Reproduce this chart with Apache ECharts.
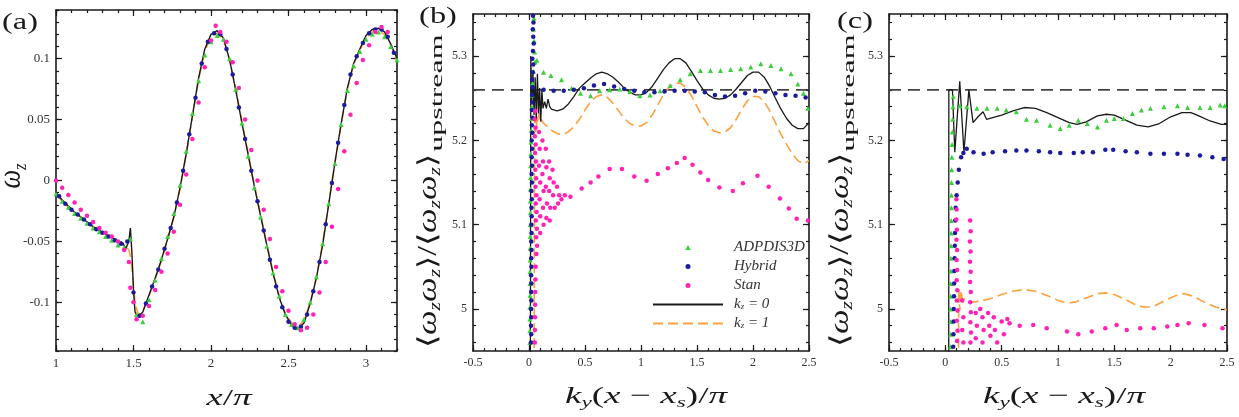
<!DOCTYPE html>
<html>
<head>
<meta charset="utf-8">
<script src="https://cdn.jsdelivr.net/npm/echarts@6/dist/echarts.min.js"></script>
<style>
  html, body { margin: 0; padding: 0; background: #fff; }
  #chart { width: 1239px; height: 417px; }
</style>
</head>
<body>
<div id="chart"></div>
<script>
// ---------- panel (a): omega_z along x/pi ----------
var aLineX = [1.00,1.04,1.08,1.12,1.16,1.20,1.24,1.28,1.32,1.36,1.40,1.43,1.45,1.47,1.48,1.49,1.50,1.51,1.53,
  1.56,1.60,1.64,1.68,1.72,1.76,1.80,1.84,1.88,1.92,1.96,2.00,2.04,2.08,2.12,2.16,2.20,2.24,2.28,2.32,2.36,
  2.40,2.44,2.48,2.52,2.56,2.60,2.64,2.68,2.72,2.76,2.80,2.84,2.88,2.92,2.96,3.00,3.04,3.08,3.12,3.16,3.20];
var aK0 = [-0.010,-0.016,-0.021,-0.026,-0.030,-0.034,-0.038,-0.041,-0.044,-0.047,-0.050,
  -0.051,-0.056,-0.050,-0.039,-0.060,-0.090,-0.108,-0.112,
  -0.108,-0.094,-0.080,-0.065,-0.048,-0.030,-0.006,0.022,0.053,0.084,0.108,
  0.120,0.123,0.117,0.099,0.074,0.047,0.021,-0.005,-0.029,-0.053,
  -0.076,-0.096,-0.110,-0.119,-0.122,-0.117,-0.101,-0.080,-0.053,-0.019,
  0.015,0.047,0.076,0.096,0.108,0.119,0.124,0.125,0.122,0.112,0.100];
var aK1 = [-0.011,-0.017,-0.022,-0.026,-0.030,-0.034,-0.038,-0.041,-0.044,-0.047,-0.050,
  -0.052,-0.054,-0.057,-0.062,-0.072,-0.088,-0.100,-0.110,
  -0.107,-0.095,-0.081,-0.066,-0.049,-0.030,-0.007,0.021,0.052,0.083,0.106,
  0.118,0.121,0.116,0.099,0.075,0.048,0.022,-0.004,-0.028,-0.052,
  -0.075,-0.095,-0.109,-0.117,-0.120,-0.115,-0.100,-0.079,-0.052,-0.018,
  0.015,0.046,0.075,0.095,0.107,0.117,0.122,0.123,0.120,0.111,0.099];
var aGreenX = [1.00,1.04,1.08,1.12,1.16,1.20,1.24,1.28,1.32,1.36,1.40,1.44,1.48,1.52,1.56,1.60,1.64,1.68,
  1.72,1.76,1.80,1.84,1.88,1.92,1.96,2.00,2.04,2.08,2.12,2.16,2.20,2.24,2.28,2.32,2.36,2.40,2.44,2.48,
  2.52,2.56,2.60,2.64,2.68,2.72,2.76,2.80,2.84,2.88,2.92,2.96,3.00,3.04,3.08,3.12,3.16,3.20];
var aGreenY = [-0.011,-0.017,-0.022,-0.027,-0.031,-0.035,-0.039,-0.042,-0.046,-0.049,-0.053,-0.055,-0.048,
  -0.110,-0.116,-0.098,-0.082,-0.064,-0.046,-0.027,-0.004,0.024,0.055,0.082,0.103,0.114,0.119,0.116,
  0.100,0.075,0.047,0.020,-0.006,-0.030,-0.054,-0.076,-0.095,-0.110,-0.118,-0.121,-0.114,-0.100,-0.079,
  -0.052,-0.019,0.014,0.046,0.074,0.094,0.106,0.116,0.120,0.122,0.118,0.110,0.099];
var aBlueX = [1.02,1.06,1.10,1.14,1.18,1.22,1.26,1.30,1.34,1.38,1.42,1.46,1.50,1.54,1.58,1.62,1.66,1.70,
  1.74,1.78,1.82,1.86,1.90,1.94,1.98,2.02,2.06,2.10,2.14,2.18,2.22,2.26,2.30,2.34,2.38,2.42,2.46,2.50,
  2.54,2.58,2.62,2.66,2.70,2.74,2.78,2.82,2.86,2.90,2.94,2.98,3.02,3.06,3.10,3.14,3.18];
var aBlueY = [-0.013,-0.019,-0.024,-0.028,-0.032,-0.036,-0.040,-0.043,-0.046,-0.049,-0.052,-0.050,-0.092,
  -0.111,-0.101,-0.087,-0.073,-0.056,-0.039,-0.018,0.008,0.038,0.068,0.096,0.114,0.121,0.120,0.108,
  0.087,0.060,0.034,0.008,-0.017,-0.041,-0.065,-0.087,-0.104,-0.116,-0.121,-0.120,-0.110,-0.091,-0.067,
  -0.036,-0.002,0.031,0.062,0.087,0.102,0.113,0.121,0.124,0.124,0.118,0.105];
var aStanX = [1.00,1.04,1.08,1.12,1.16,1.20,1.24,1.28,1.32,1.36,1.40,1.44,1.47,1.48,1.50,1.52,1.56,1.60,
  1.64,1.68,1.72,1.76,1.80,1.84,1.88,1.92,1.96,2.00,2.03,2.06,2.10,2.14,2.18,2.22,2.26,2.30,2.34,2.38,
  2.42,2.46,2.50,2.54,2.58,2.62,2.66,2.70,2.74,2.78,2.82,2.86,2.90,2.94,2.98,3.02,3.06,3.10,3.14];
var aStanY = [0.000,-0.006,-0.012,-0.018,-0.024,-0.029,-0.034,-0.039,-0.043,-0.046,-0.050,-0.057,
  -0.067,-0.088,-0.100,-0.114,-0.111,-0.103,-0.090,-0.075,-0.060,-0.042,-0.020,0.005,0.034,0.064,0.093,
  0.115,0.127,0.122,0.114,0.097,0.076,0.050,0.025,0.000,-0.024,-0.048,-0.071,-0.091,-0.107,-0.118,
  -0.123,-0.121,-0.110,-0.092,-0.067,-0.038,-0.007,0.024,0.054,0.080,0.099,0.111,0.122,0.126,0.122];

// ---------- panel (b) ----------
var upstreamLevel = 5.26;
var refX = [-0.5, 2.5];
var bK0 = [[0.012,4.90],[0.016,5.300],[0.025,5.245],[0.035,5.282],[0.045,5.230],[0.055,5.275],[0.065,5.225],
  [0.075,5.279],[0.085,5.232],[0.095,5.262],[0.105,5.222],[0.115,5.260],[0.125,5.238],[0.14,5.246],[0.155,5.238],
  [0.17,5.249],[0.185,5.240],[0.20,5.237],[0.25,5.235],[0.30,5.237],[0.35,5.243],[0.40,5.252],[0.45,5.262],
  [0.50,5.268],[0.55,5.274],[0.60,5.279],[0.65,5.281],[0.70,5.279],[0.75,5.275],[0.80,5.269],[0.85,5.262],
  [0.90,5.257],[0.95,5.254],[1.00,5.254],[1.05,5.257],[1.10,5.264],[1.15,5.274],[1.20,5.284],[1.25,5.292],
  [1.30,5.297],[1.35,5.297],[1.40,5.292],[1.45,5.282],[1.50,5.271],[1.55,5.261],[1.60,5.254],[1.65,5.250],
  [1.70,5.249],[1.75,5.250],[1.80,5.254],[1.85,5.261],[1.90,5.269],[1.95,5.277],[2.00,5.281],[2.05,5.281],
  [2.10,5.275],[2.15,5.264],[2.20,5.250],[2.25,5.237],[2.30,5.226],[2.35,5.218],[2.40,5.214],[2.45,5.214],[2.50,5.221]];
var bK1 = [[0.045,4.90],[0.050,5.220],[0.055,5.228],[0.06,5.210],[0.065,5.232],[0.07,5.215],[0.075,5.228],
  [0.08,5.222],[0.09,5.232],[0.10,5.222],[0.11,5.225],[0.12,5.222],[0.14,5.219],[0.17,5.216],[0.20,5.212],
  [0.25,5.208],[0.30,5.207],[0.35,5.210],[0.40,5.216],[0.45,5.225],[0.50,5.236],[0.55,5.246],[0.60,5.252],
  [0.65,5.254],[0.70,5.251],[0.75,5.244],[0.80,5.235],[0.85,5.226],[0.90,5.220],[0.95,5.217],[1.00,5.217],
  [1.05,5.221],[1.10,5.230],[1.15,5.242],[1.20,5.254],[1.25,5.263],[1.30,5.268],[1.35,5.268],[1.40,5.263],
  [1.45,5.253],[1.50,5.240],[1.55,5.228],[1.60,5.218],[1.65,5.211],[1.70,5.209],[1.75,5.210],[1.80,5.215],
  [1.85,5.225],[1.90,5.237],[1.95,5.247],[2.00,5.252],[2.05,5.252],[2.10,5.246],[2.15,5.235],[2.20,5.221],
  [2.25,5.207],[2.30,5.195],[2.35,5.184],[2.40,5.176],[2.45,5.172],[2.50,5.176]];
var bGreen = [[0.044,5.345],[0.040,5.332],[0.046,5.318],[0.050,5.305],[0.055,5.293],[0.038,5.282],[0.032,5.268],
  [0.028,5.254],[0.025,5.240],[0.022,5.226],[0.020,5.212],[0.018,5.198],[0.016,5.184],[0.015,5.170],[0.014,5.156],
  [0.013,5.142],[0.012,5.128],[0.012,5.114],[0.011,5.100],[0.011,5.086],[0.010,5.072],[0.010,5.058],[0.009,5.044],
  [0.009,5.030],[0.009,5.016],[0.008,5.002],[0.008,4.988],[0.008,4.974],[0.008,4.960],
  [0.071,5.295],[0.13,5.281],[0.196,5.277],[0.29,5.272],[0.38,5.262],[0.46,5.256],[0.55,5.253],[0.63,5.259],
  [0.72,5.260],[0.81,5.261],[0.90,5.258],[0.99,5.253],[1.08,5.254],[1.17,5.259],[1.26,5.265],[1.35,5.272],
  [1.44,5.279],[1.53,5.283],[1.62,5.283],[1.71,5.283],[1.80,5.284],[1.89,5.285],[1.98,5.287],[2.07,5.291],
  [2.16,5.289],[2.25,5.285],[2.34,5.279],[2.40,5.267],[2.45,5.256],[2.49,5.238]];
var bBlue = [[0.036,5.348],[0.040,5.340],[0.034,5.332],[0.038,5.323],[0.042,5.315],[0.035,5.306],[0.030,5.297],
  [0.038,5.290],[0.034,5.281],[0.028,5.272],[0.033,5.263],[0.027,5.254],[0.030,5.245],[0.025,5.236],[0.032,5.227],
  [0.026,5.218],[0.029,5.209],[0.024,5.200],[0.028,5.190],[0.024,5.180],[0.027,5.170],[0.023,5.160],[0.026,5.150],
  [0.022,5.140],[0.025,5.130],[0.022,5.120],[0.024,5.110],[0.021,5.100],[0.023,5.090],[0.020,5.080],[0.022,5.070],
  [0.020,5.060],[0.022,5.050],[0.019,5.040],[0.021,5.030],[0.019,5.020],[0.021,5.010],[0.019,5.000],[0.020,4.990],
  [0.018,4.980],[0.020,4.970],[0.018,4.960],
  [0.13,5.260],[0.22,5.259],[0.31,5.259],[0.40,5.260],[0.49,5.262],[0.58,5.265],[0.67,5.267],[0.76,5.264],
  [0.85,5.261],[0.94,5.259],[1.03,5.257],[1.12,5.257],[1.21,5.258],[1.30,5.259],[1.39,5.259],[1.48,5.258],
  [1.57,5.257],[1.66,5.254],[1.75,5.252],[1.84,5.253],[1.93,5.256],[2.02,5.259],[2.11,5.258],[2.20,5.256],
  [2.29,5.254],[2.38,5.253],[2.47,5.251]];
var bStan = [[0.055,5.235],[0.050,5.225],[0.058,5.215],[0.052,5.205],[0.060,5.195],[0.054,5.185],[0.062,5.175],
  [0.056,5.165],[0.064,5.155],[0.058,5.145],[0.066,5.135],[0.060,5.125],[0.068,5.115],[0.062,5.105],[0.070,5.095],
  [0.064,5.085],[0.072,5.075],[0.066,5.065],[0.060,5.050],[0.058,5.035],[0.056,5.020],[0.055,5.005],[0.054,4.990],
  [0.053,4.975],[0.052,4.960],
  [0.09,5.21],[0.095,5.19],[0.09,5.17],[0.10,5.15],[0.095,5.13],[0.10,5.11],[0.10,5.09],
  [0.12,5.20],[0.125,5.175],[0.12,5.16],[0.13,5.14],[0.125,5.12],[0.13,5.10],
  [0.15,5.19],[0.155,5.168],[0.15,5.145],[0.16,5.125],[0.155,5.108],
  [0.18,5.175],[0.185,5.155],[0.18,5.14],[0.19,5.12],[0.185,5.105],
  [0.21,5.165],[0.22,5.15],[0.215,5.135],[0.23,5.12],
  [0.25,5.145],[0.27,5.135],[0.26,5.125],[0.29,5.13],[0.32,5.135],
  [0.37,5.133],[0.47,5.143],[0.55,5.150],[0.62,5.157],[0.72,5.166],[0.83,5.166],[0.94,5.157],[1.05,5.152],
  [1.15,5.160],[1.24,5.167],[1.32,5.173],[1.39,5.179],[1.46,5.171],[1.53,5.162],[1.60,5.153],[1.70,5.144],
  [1.82,5.140],[1.91,5.149],[2.04,5.158],[2.14,5.145],[2.24,5.131],[2.32,5.119],[2.39,5.107],[2.49,5.105]];

// ---------- panel (c) ----------
var cK0 = [[0.030,4.90],[0.031,5.260],[0.063,5.260],[0.084,5.186],[0.128,5.270],[0.165,5.186],[0.209,5.260],
  [0.246,5.221],[0.29,5.228],[0.335,5.234],[0.366,5.225],[0.42,5.227],[0.50,5.230],[0.60,5.235],[0.70,5.239],
  [0.80,5.238],[0.90,5.233],[1.00,5.227],[1.10,5.221],[1.17,5.219],[1.25,5.222],[1.35,5.229],[1.43,5.231],
  [1.50,5.230],[1.60,5.224],[1.70,5.218],[1.80,5.216],[1.90,5.220],[2.00,5.228],[2.10,5.233],[2.18,5.233],
  [2.25,5.229],[2.35,5.223],[2.45,5.219],[2.50,5.219]];
var cK1 = [[0.115,4.90],[0.119,5.024],[0.128,4.998],[0.14,5.022],[0.15,5.010],[0.17,5.012],[0.20,5.008],
  [0.25,5.008],[0.30,5.009],[0.40,5.012],[0.50,5.017],[0.60,5.021],[0.70,5.023],[0.80,5.021],[0.90,5.016],
  [1.00,5.010],[1.08,5.007],[1.15,5.008],[1.25,5.013],[1.35,5.018],[1.42,5.019],[1.50,5.017],[1.60,5.011],
  [1.70,5.004],[1.78,5.002],[1.85,5.003],[1.95,5.010],[2.05,5.016],[2.12,5.018],[2.20,5.015],[2.30,5.008],
  [2.40,5.002],[2.50,4.999]];
var cGreen = [[0.045,4.955],[0.046,4.970],[0.047,4.985],[0.047,5.000],[0.048,5.015],[0.048,5.030],[0.049,5.045],
  [0.050,5.060],[0.050,5.075],[0.051,5.090],[0.052,5.105],[0.053,5.120],[0.054,5.135],[0.055,5.150],[0.056,5.165],
  [0.058,5.180],[0.060,5.195],[0.062,5.210],[0.065,5.225],[0.068,5.240],[0.070,5.252],
  [0.13,5.241],[0.19,5.240],[0.28,5.238],[0.37,5.238],[0.46,5.238],[0.54,5.236],[0.63,5.234],[0.72,5.225],
  [0.81,5.224],[0.93,5.218],[1.02,5.214],[1.10,5.218],[1.18,5.224],[1.26,5.220],[1.35,5.216],[1.43,5.224],
  [1.50,5.226],[1.58,5.226],[1.66,5.232],[1.74,5.236],[1.82,5.238],[1.94,5.240],[2.06,5.241],[2.15,5.239],
  [2.26,5.239],[2.35,5.239],[2.44,5.242],[2.48,5.241]];
var cBlue = [[0.070,4.955],[0.072,4.970],[0.074,4.985],[0.075,5.000],[0.077,5.015],[0.078,5.030],[0.080,5.045],
  [0.082,5.060],[0.084,5.075],[0.086,5.090],[0.088,5.105],[0.092,5.120],[0.100,5.135],[0.110,5.150],[0.120,5.165],
  [0.140,5.180],[0.160,5.185],
  [0.19,5.190],[0.25,5.186],[0.34,5.184],[0.42,5.186],[0.53,5.187],[0.63,5.188],[0.72,5.188],[0.83,5.187],
  [0.93,5.186],[1.02,5.185],[1.14,5.185],[1.22,5.186],[1.31,5.186],[1.42,5.189],[1.49,5.189],[1.60,5.187],
  [1.70,5.186],[1.82,5.184],[1.94,5.184],[2.06,5.184],[2.15,5.183],[2.26,5.182],[2.37,5.180],[2.47,5.178]];
var cStan = [[0.098,5.130],[0.100,5.118],[0.097,5.106],[0.102,5.094],[0.099,5.082],[0.104,5.070],[0.100,5.058],
  [0.105,5.046],[0.101,5.034],[0.106,5.022],[0.102,5.010],[0.107,4.998],[0.103,4.986],[0.108,4.974],[0.104,4.962],
  [0.220,5.105],[0.225,5.092],[0.218,5.080],[0.224,5.068],[0.219,5.056],[0.225,5.044],[0.220,5.032],[0.226,5.020],
  [0.221,5.008],[0.227,4.996],[0.222,4.984],[0.228,4.972],[0.223,4.960],
  [0.15,5.010],[0.16,4.990],[0.15,4.975],[0.16,4.960],[0.27,4.995],[0.28,4.980],[0.27,4.965],[0.31,5.000],
  [0.33,4.990],[0.34,4.975],[0.33,4.960],[0.38,4.995],[0.39,4.980],[0.40,4.968],[0.43,4.990],[0.44,4.975],
  [0.46,4.960],[0.50,4.985],[0.52,4.970],[0.55,4.988],
  [0.57,4.983],[0.66,4.980],[0.78,4.981],[0.90,4.977],[1.08,4.973],[1.18,4.970],[1.30,4.973],[1.42,4.977],
  [1.52,4.981],[1.61,4.975],[1.73,4.977],[1.85,4.977],[1.97,4.979],[2.06,4.981],[2.16,4.983],[2.30,4.981],[2.46,4.977]];

// ---------- tick labels ----------
var aXTicks = [1, 1.5, 2, 2.5, 3];
var aYTicks = [-0.1, -0.05, 0, 0.05, 0.1];
var kXTicks = [-0.5, 0, 0.5, 1, 1.5, 2, 2.5];
var kYTicks = [5, 5.1, 5.2, 5.3];

var SERIF = 'Liberation Serif';
var INK = '#1a1a1a';
var C_GREEN = '#3ccf3c', C_BLUE = '#1b1b9c', C_STAN = '#ff22b4', C_ORANGE = '#ffa040', C_REF = '#444';

function zip(xs, ys) { return xs.map(function (x, i) { return [x, ys[i]]; }); }
function steps(from, to, step) {
  var out = [];
  for (var k = 0; from + k * step <= to + 1e-9; k++) out.push(+(from + k * step).toFixed(4));
  return out;
}

// four axes per direction: main (labels + long ticks), minor ticks, opposite side long + minor
function frame(dim, grid, min, max, majors, minors, fontSize) {
  var side = dim === 'x' ? ['bottom', 'top'] : ['left', 'right'];
  function ax(pos, ticks, len, line, labels) {
    return {
      type: 'value', gridIndex: grid, position: pos, min: min, max: max,
      axisLine: { show: line, onZero: false, lineStyle: { color: INK, width: 1.6 } },
      axisTick: { show: true, inside: true, length: len, customValues: ticks, lineStyle: { color: INK, width: 1.2 } },
      axisLabel: { show: labels, customValues: majors, fontFamily: SERIF, fontSize: fontSize, color: '#333', margin: 6 },
      splitLine: { show: false }
    };
  }
  return [
    ax(side[0], majors, 6, true, true),
    ax(side[0], minors, 3, false, false),
    ax(side[1], majors, 6, true, false),
    ax(side[1], minors, 3, false, false)
  ];
}

var xAxes = [].concat(
  frame('x', 0, 1, 3.2, aXTicks, steps(1, 3.2, 0.1), 13),
  frame('x', 1, -0.5, 2.5, kXTicks, steps(-0.5, 2.5, 0.1), 12),
  frame('x', 2, -0.5, 2.5, kXTicks, steps(-0.5, 2.5, 0.1), 12)
);
var yAxes = [].concat(
  frame('y', 0, -0.14, 0.14, aYTicks, steps(-0.14, 0.14, 0.01), 13),
  frame('y', 1, 4.95, 5.35, kYTicks, steps(4.96, 5.34, 0.02), 12),
  frame('y', 2, 4.95, 5.35, kYTicks, steps(4.96, 5.34, 0.02), 12)
);

function line(p, name, data, color, width, dash, z) {
  return { type: 'line', name: name, xAxisIndex: 4 * p, yAxisIndex: 4 * p, data: data,
    symbol: 'none', showSymbol: false, silent: true, z: z,
    lineStyle: { color: color, width: width, type: dash }, itemStyle: { color: color } };
}
function dots(p, name, data, color, symbol, size) {
  return { type: 'scatter', name: name, xAxisIndex: 4 * p, yAxisIndex: 4 * p, data: data,
    symbol: symbol, symbolSize: size, silent: true, z: 4, itemStyle: { color: color, opacity: 1 } };
}

var series = [
  line(0, 'kz1', zip(aLineX, aK1), C_ORANGE, 1.6, [10, 5], 2),
  line(0, 'kz0', zip(aLineX, aK0), INK, 1.4, 'solid', 3),
  dots(0, 'ADPDIS3D', zip(aGreenX, aGreenY), C_GREEN, 'triangle', 5),
  dots(0, 'Hybrid', zip(aBlueX, aBlueY), C_BLUE, 'circle', 4.5),
  dots(0, 'Stan', zip(aStanX, aStanY), C_STAN, 'circle', 4.5),

  line(1, 'ref', zip(refX, [upstreamLevel, upstreamLevel]), C_REF, 1.8, [12, 7], 1),
  line(1, 'kz1', bK1, C_ORANGE, 1.6, [10, 5], 2),
  line(1, 'kz0', bK0, INK, 1.3, 'solid', 3),
  dots(1, 'ADPDIS3D', bGreen, C_GREEN, 'triangle', 5),
  dots(1, 'Hybrid', bBlue, C_BLUE, 'circle', 4.5),
  dots(1, 'Stan', bStan, C_STAN, 'circle', 4.5),

  line(2, 'ref', zip(refX, [upstreamLevel, upstreamLevel]), C_REF, 1.8, [12, 7], 1),
  line(2, 'kz1', cK1, C_ORANGE, 1.6, [10, 5], 2),
  line(2, 'kz0', cK0, INK, 1.3, 'solid', 3),
  dots(2, 'ADPDIS3D', cGreen, C_GREEN, 'triangle', 5),
  dots(2, 'Hybrid', cBlue, C_BLUE, 'circle', 4.5),
  dots(2, 'Stan', cStan, C_STAN, 'circle', 4.5)
];

// text pieces for titles
var rich = {
  i: { fontFamily: SERIF, fontStyle: 'italic', fontSize: 24, lineHeight: 28, verticalAlign: 'middle', fill: INK, color: INK },
  r: { fontFamily: SERIF, fontSize: 24, lineHeight: 28, verticalAlign: 'middle', fill: INK, color: INK },
  s: { fontFamily: SERIF, fontStyle: 'italic', fontSize: 15, lineHeight: 15, verticalAlign: 'bottom', fill: INK, color: INK },
  u: { fontFamily: SERIF, fontSize: 16, lineHeight: 16, verticalAlign: 'middle', fill: INK, color: INK }
};
function label(x, y, text, rot, sx, sy) {
  return { type: 'text', x: x, y: y, rotation: rot, scaleX: sx, scaleY: sy, silent: true,
    style: { text: text, rich: rich, align: 'center', verticalAlign: 'middle',
      textAlign: 'center', textVerticalAlign: 'middle', fill: INK } };
}
var kTitle = '{i|k}{s|y}{r|(}{i|x}{r| − }{i|x}{s|s}{r|)/}{i|π}';
var wRatio = '{r|⟨}{i|ω}{s|z}{i|ω}{s|z}{r|⟩/⟨}{i|ω}{s|z}{i|ω}{s|z}{r|⟩}';
var ROT = Math.PI / 2;
var lineKeep = { color: 'rgba(0,0,0,0)', borderWidth: 0 };

var chart = echarts.init(document.getElementById('chart'));
chart.setOption({
  animation: false,
  backgroundColor: '#fff',
  grid: [
    { left: 56, top: 10, width: 341, height: 341 },
    { left: 473, top: 14, width: 336, height: 337 },
    { left: 889, top: 14, width: 338, height: 337 }
  ],
  xAxis: xAxes,
  yAxis: yAxes,
  legend: {
    left: 652, top: 240, orient: 'vertical', padding: 0,
    itemWidth: 70, itemHeight: 5, itemGap: 4, selectedMode: false,
    data: [
      { name: 'ADPDIS3D', icon: 'path://M0,10L5.5,0L11,10Z' },
      { name: 'Hybrid', icon: 'circle' },
      { name: 'Stan', icon: 'circle' },
      { name: 'kz0', itemStyle: lineKeep },
      { name: 'kz1', itemStyle: lineKeep }
    ],
    formatter: function (name) {
      if (name === 'kz0') return '{t|k}{z|z}{t| = 0}';
      if (name === 'kz1') return '{t|k}{z|z}{t| = 1}';
      return '{t|' + name + '}';
    },
    textStyle: {
      padding: [0, 0, 0, 6],
      rich: {
        t: { fontFamily: SERIF, fontStyle: 'italic', fontSize: 15, lineHeight: 14, color: '#333', verticalAlign: 'middle' },
        z: { fontFamily: SERIF, fontStyle: 'italic', fontSize: 9, lineHeight: 14, color: '#333', verticalAlign: 'bottom' }
      }
    }
  },
  graphic: [
    label(20, 23, '{r|(a)}', 0, 1.35, 1),
    label(438, 17, '{r|(b)}', 0, 1.35, 1),
    label(855, 22, '{r|(c)}', 0, 1.35, 1),
    label(229, 399, '{i|x}{r|/}{i|π}', 0, 1.55, 1),
    label(646, 397, kTitle, 0, 1.55, 1),
    label(1064, 397, kTitle, 0, 1.55, 1),
    label(12, 176, '{i|ω}{s|z}', ROT, 1.1, 1.3),
    label(429, 251, wRatio, ROT, 1.45, 1.1),
    label(438, 93, '{u|upstream}', ROT, 2.0, 1.0),
    label(841, 250, wRatio, ROT, 1.45, 1.1),
    label(850, 93, '{u|upstream}', ROT, 2.0, 1.0)
  ],
  series: series
});
</script>
</body>
</html>
